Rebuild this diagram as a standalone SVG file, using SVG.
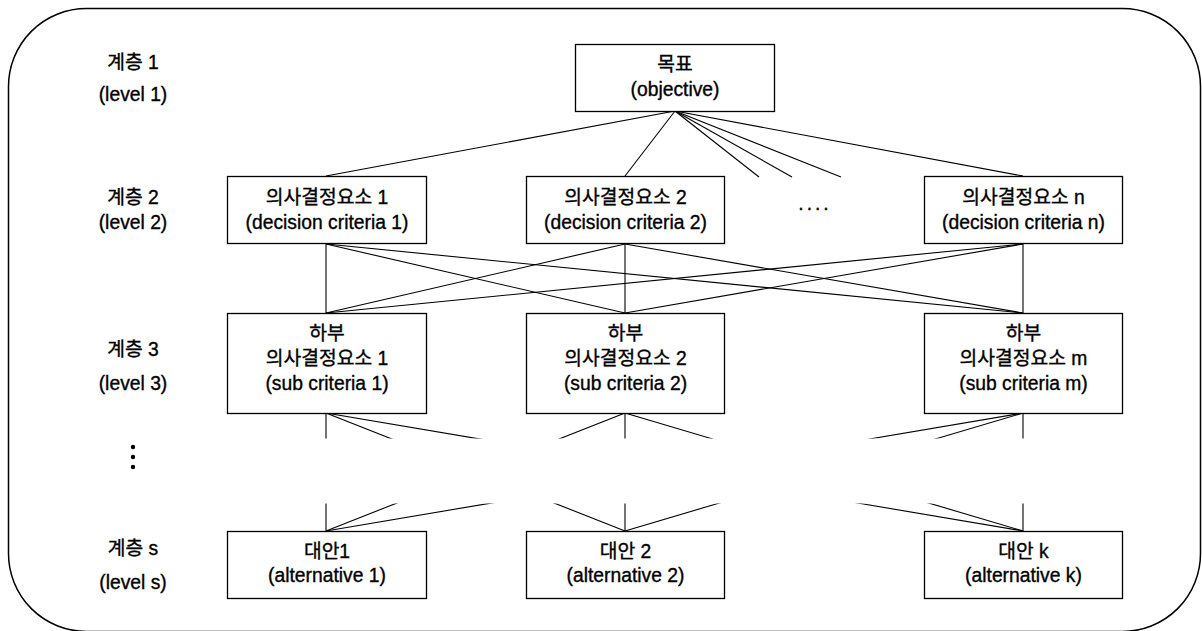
<svg xmlns="http://www.w3.org/2000/svg" width="1202" height="631" viewBox="0 0 1202 631">
<style>
.box{fill:#fff;stroke:#000;stroke-width:1.3}
.t{font-family:"Liberation Sans","Noto Sans CJK KR",Arial,sans-serif;font-size:19.3px;fill:#000;stroke:#000;stroke-width:0.35;text-anchor:middle}
.c line{stroke:#000;stroke-width:1.1}
</style>
<defs>
<clipPath id="gap">
<rect x="0" y="0" width="1202" height="438.5"/>
<rect x="0" y="503.5" width="1202" height="128"/>
</clipPath>
</defs>
<rect id="frame" x="8.5" y="8.5" width="1192" height="623" rx="78" ry="78" fill="#fff" stroke="#000" stroke-width="1.5"/>

<g id="connectors" class="c">
<line x1="675" y1="111" x2="326" y2="176"/>
<line x1="675" y1="111" x2="625" y2="176"/>
<line x1="675" y1="111" x2="759" y2="177"/>
<line x1="675" y1="111" x2="792" y2="177"/>
<line x1="675" y1="111" x2="841" y2="177"/>
<line x1="675" y1="111" x2="1023" y2="176"/>
<line x1="326" y1="244" x2="326" y2="313"/>
<line x1="326" y1="244" x2="625" y2="313"/>
<line x1="326" y1="244" x2="1023" y2="313"/>
<line x1="625" y1="244" x2="326" y2="313"/>
<line x1="625" y1="244" x2="625" y2="313"/>
<line x1="625" y1="244" x2="1023" y2="313"/>
<line x1="1023" y1="244" x2="326" y2="313"/>
<line x1="1023" y1="244" x2="625" y2="313"/>
<line x1="1023" y1="244" x2="1023" y2="313"/>
<g clip-path="url(#gap)">
<line x1="326" y1="413" x2="326" y2="531"/>
<line x1="326" y1="413" x2="625" y2="531"/>
<line x1="326" y1="413" x2="1023" y2="531"/>
<line x1="625" y1="413" x2="326" y2="531"/>
<line x1="625" y1="413" x2="625" y2="531"/>
<line x1="625" y1="413" x2="1023" y2="531"/>
<line x1="1023" y1="413" x2="326" y2="531"/>
<line x1="1023" y1="413" x2="625" y2="531"/>
<line x1="1023" y1="413" x2="1023" y2="531"/>
</g>
</g>

<g id="levels">
<text class="t" x="133" y="69">계층 1</text>
<text class="t" x="133" y="100.5">(level 1)</text>
<text class="t" x="133" y="204">계층 2</text>
<text class="t" x="133" y="228.5">(level 2)</text>
<text class="t" x="133" y="356">계층 3</text>
<text class="t" x="133" y="389.5">(level 3)</text>
<circle cx="133" cy="447" r="2.2"/>
<circle cx="133" cy="457" r="2.2"/>
<circle cx="133" cy="467" r="2.2"/>
<text class="t" x="133" y="555">계층 s</text>
<text class="t" x="133" y="588.5">(level s)</text>
</g>

<g id="objective">
<rect class="box" x="575.5" y="44.5" width="199" height="67"/>
<text class="t" x="675" y="71">목표</text>
<text class="t" x="675" y="95.5">(objective)</text>
</g>

<g id="dc1">
<rect class="box" x="227.5" y="176.5" width="199" height="67"/>
<text class="t" x="327" y="204">의사결정요소 1</text>
<text class="t" x="327" y="228.5">(decision criteria 1)</text>
</g>
<g id="dc2">
<rect class="box" x="526.5" y="176.5" width="198" height="67"/>
<text class="t" x="625.5" y="204">의사결정요소 2</text>
<text class="t" x="625.5" y="228.5">(decision criteria 2)</text>
</g>
<text id="dots" class="t" x="815" y="210" letter-spacing="3">....</text>
<g id="dcn">
<rect class="box" x="924.5" y="176.5" width="198" height="67"/>
<text class="t" x="1023.5" y="204">의사결정요소 n</text>
<text class="t" x="1023.5" y="228.5">(decision criteria n)</text>
</g>

<g id="sc1">
<rect class="box" x="227.5" y="313.5" width="199" height="100"/>
<text class="t" x="327" y="340">하부</text>
<text class="t" x="327" y="365">의사결정요소 1</text>
<text class="t" x="327" y="389.5">(sub criteria 1)</text>
</g>
<g id="sc2">
<rect class="box" x="526.5" y="313.5" width="198" height="100"/>
<text class="t" x="625.5" y="340">하부</text>
<text class="t" x="625.5" y="365">의사결정요소 2</text>
<text class="t" x="625.5" y="389.5">(sub criteria 2)</text>
</g>
<g id="scm">
<rect class="box" x="924.5" y="313.5" width="198" height="100"/>
<text class="t" x="1023.5" y="340">하부</text>
<text class="t" x="1023.5" y="365">의사결정요소 m</text>
<text class="t" x="1023.5" y="389.5">(sub criteria m)</text>
</g>

<g id="alt1">
<rect class="box" x="227.5" y="531.5" width="199" height="67"/>
<text class="t" x="327" y="558">대안1</text>
<text class="t" x="327" y="581.5">(alternative 1)</text>
</g>
<g id="alt2">
<rect class="box" x="526.5" y="531.5" width="198" height="67"/>
<text class="t" x="625.5" y="558">대안 2</text>
<text class="t" x="625.5" y="581.5">(alternative 2)</text>
</g>
<g id="altk">
<rect class="box" x="924.5" y="531.5" width="198" height="67"/>
<text class="t" x="1023.5" y="558">대안 k</text>
<text class="t" x="1023.5" y="581.5">(alternative k)</text>
</g>
</svg>
